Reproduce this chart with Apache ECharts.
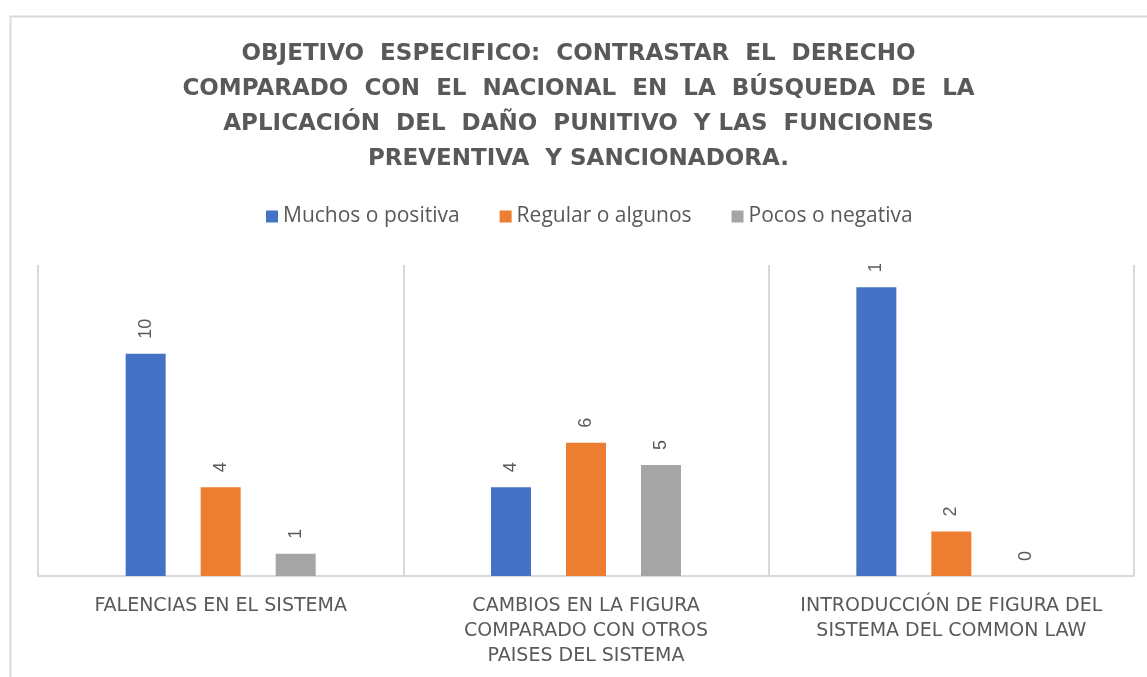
<!DOCTYPE html>
<html>
<head>
<meta charset="utf-8">
<script src="https://cdn.jsdelivr.net/npm/echarts@6/dist/echarts.min.js"></script>
<style>
  html, body { margin: 0; padding: 0; background: #fff; }
  #main { width: 1147px; height: 677px; }
</style>
</head>
<body>
<div id="main"></div>
<script>
// categorias y valores
var categorias = [
  'FALENCIAS EN EL SISTEMA',
  'CAMBIOS EN LA FIGURA\nCOMPARADO CON OTROS\nPAISES DEL SISTEMA',
  'INTRODUCCIÓN DE FIGURA DEL\nSISTEMA DEL COMMON LAW'
];
var muchos = [10, 4, 13];
var regular = [4, 6, 2];
var pocos = [1, 5, 0];
var series_nombres = ['Muchos o positiva', 'Regular o algunos', 'Pocos o negativa'];
var colores = ['#4472C4', '#ED7D31', '#A5A5A5'];

var myChart = echarts.init(document.getElementById('main'));

function serie(nombre, datos, color) {
  return {
    name: nombre,
    type: 'bar',
    data: datos,
    barWidth: 40,
    barGap: '87.5%',
    itemStyle: { color: color },
    label: {
      show: true,
      position: 'top',
      rotate: 90,
      align: 'left',
      verticalAlign: 'middle',
      distance: 15,
      color: '#595959',
      fontSize: 18,
      fontFamily: 'Liberation Sans'
    }
  };
}

option = {
  backgroundColor: '#fff',
  animation: false,
  title: {
    text: 'OBJETIVO  ESPECIFICO:  CONTRASTAR  EL  DERECHO\nCOMPARADO  CON  EL  NACIONAL  EN  LA  BÚSQUEDA  DE  LA\nAPLICACIÓN  DEL  DAÑO  PUNITIVO  Y LAS  FUNCIONES\nPREVENTIVA  Y SANCIONADORA.',
    left: '50%',
    top: 32,
    textAlign: 'center',
    textStyle: {
      color: '#595959',
      fontSize: 23,
      fontWeight: 'bold',
      fontFamily: 'DejaVu Sans',
      lineHeight: 35
    }
  },
  legend: {
    data: series_nombres,
    top: 201,
    left: 261,
    itemWidth: 12,
    itemHeight: 12,
    itemGap: 40,
    icon: 'rect',
    textStyle: {
      color: '#595959',
      fontSize: 21,
      fontFamily: 'Open Sans'
    }
  },
  grid: {
    left: 38,
    right: 13,
    top: 265,
    bottom: 101
  },
  xAxis: {
    type: 'category',
    data: categorias,
    axisLine: { lineStyle: { color: '#d9d9d9', width: 2 } },
    axisTick: { show: false },
    splitLine: { show: true, lineStyle: { color: '#d9d9d9', width: 2 } },
    axisLabel: {
      color: '#595959',
      fontSize: 19,
      fontFamily: 'DejaVu Sans',
      lineHeight: 25,
      margin: 18,
      interval: 0
    }
  },
  yAxis: {
    type: 'value',
    min: 0,
    max: 14,
    show: false,
    splitLine: { show: false }
  },
  graphic: [
    {
      // borde exterior del grafico
      type: 'rect',
      left: 8,
      top: 14,
      shape: { width: 1200, height: 700 },
      style: { fill: 'none', stroke: '#d9d9d9', lineWidth: 2 },
      z: 0,
      silent: true
    },
    {
      // recorte del area de trazado (la etiqueta 13 sale cortada)
      type: 'rect',
      left: 38,
      top: 235,
      shape: { width: 1100, height: 29 },
      style: { fill: '#fff' },
      z: 100,
      silent: true
    }
  ],
  series: [
    serie(series_nombres[0], muchos, colores[0]),
    serie(series_nombres[1], regular, colores[1]),
    serie(series_nombres[2], pocos, colores[2])
  ]
};

myChart.setOption(option);
</script>
</body>
</html>
